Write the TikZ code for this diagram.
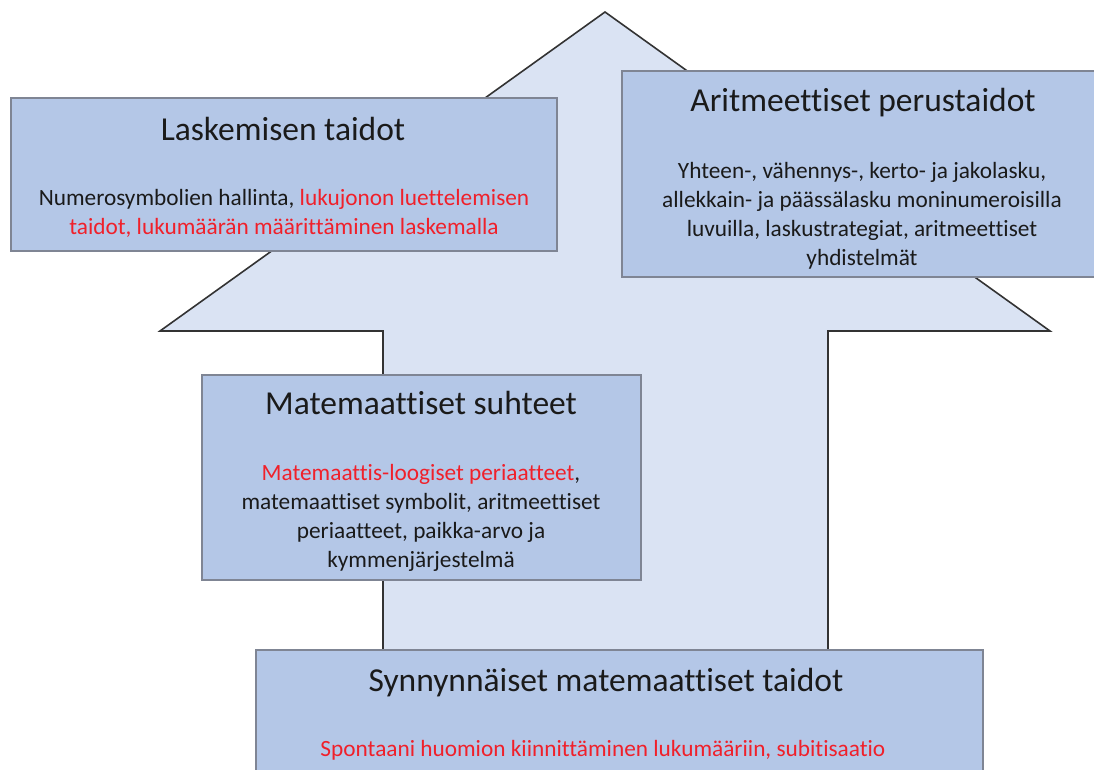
\documentclass[tikz,border=0pt]{standalone}
\usepackage{fontspec}
\setmainfont{Carlito}[Ligatures={NoCommon}]
\definecolor{arrowfill}{HTML}{DAE3F3}
\definecolor{boxfill}{HTML}{B4C7E7}
\definecolor{boxline}{HTML}{7F8594}
\definecolor{redtxt}{HTML}{F0202A}
\definecolor{txt}{HTML}{1A1A1A}
\begin{document}
\begin{tikzpicture}[x=1pt,y=-1pt,
  box/.style={draw=boxline, fill=boxfill, line width=1.3pt},
  title/.style={font=\fontsize{33.5}{38}\selectfont, text=txt, inner sep=0pt, anchor=base},
  body/.style={font=\fontsize{23.3}{29}\selectfont, text=txt, align=center, inner sep=0pt, anchor=north}]
\useasboundingbox (0,0) rectangle (1094,769);
\clip (0,0) rectangle (1094,769);
% big arrow
\draw[fill=arrowfill, draw=black!80, line width=1.6pt, line join=miter]
  (605,12) -- (1050,331) -- (828,331) -- (828,650) -- (383,650) -- (383,331) -- (160,331) -- cycle;
% boxes
\path[box] (11,98) rectangle (557,251);
\path[box] (622,71) rectangle (1100,277);
\path[box] (202,375) rectangle (641,580);
\path[box] (256,650) rectangle (983,790);
% texts
\node[title] (t1) at (283,140) {Laskemisen taidot};
\node[body] (b1) at (284,189) {Numerosymbolien hallinta, \textcolor{redtxt}{lukujonon luettelemisen}\\
\textcolor{redtxt}{taidot, lukumäärän määrittäminen laskemalla}};
\node[title] (t2) at (863,111) {Aritmeettiset perustaidot};
\node[body] (b2) at (862,162) {Yhteen-, vähennys-, kerto- ja jakolasku,\\
allekkain- ja päässälasku moninumeroisilla\\
luvuilla, laskustrategiat, aritmeettiset\\
yhdistelmät};
\node[title] (t3) at (421,414) {Matemaattiset suhteet};
\node[body] (b3) at (421,464) {\textcolor{redtxt}{Matemaattis-loogiset periaatteet},\\
matemaattiset symbolit, aritmeettiset\\
periaatteet, paikka-arvo ja\\
kymmenjärjestelmä};
\node[title] (t4) at (606,691) {Synnynnäiset matemaattiset taidot};
\node[body] (b4) at (603,740) {\textcolor{redtxt}{Spontaani huomion kiinnittäminen lukumääriin, subitisaatio}};
\end{tikzpicture}
\end{document}
